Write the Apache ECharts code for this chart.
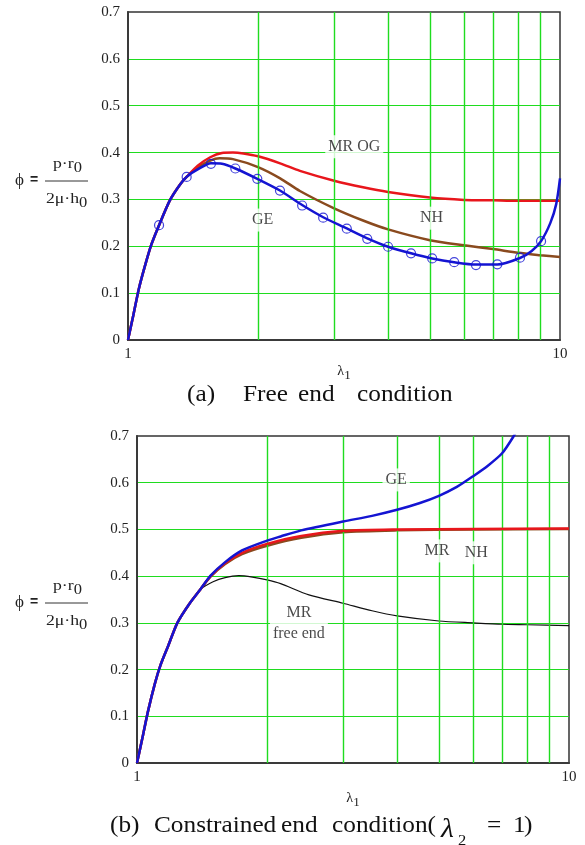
<!DOCTYPE html>
<html><head><meta charset="utf-8">
<script src="https://cdn.jsdelivr.net/npm/echarts/dist/echarts.min.js"></script>
<style>html,body{margin:0;padding:0;background:#fff}#c{width:585px;height:845px}</style>
</head><body><div id="c"></div>
<script>
// ---------- data: chart (a) free end condition ----------
const aRise_x = [1.0, 1.03, 1.06, 1.1, 1.134, 1.18, 1.25, 1.32, 1.37];
const aRise_y = [0, 0.055, 0.11, 0.165, 0.205, 0.245, 0.298, 0.332, 0.349];
const aMR_x = [1.45, 1.55, 1.65, 1.75, 1.85, 2.0, 2.25, 2.5, 3.0, 3.5, 4.0, 5.0, 6.0, 7.0, 8.0, 10];
const aMR_y = [0.372, 0.390, 0.399, 0.400, 0.398, 0.392, 0.377, 0.361, 0.340, 0.326, 0.316, 0.304, 0.299, 0.298, 0.297, 0.297];
const aNH_x = [1.45, 1.55, 1.63, 1.75, 2.0, 2.25, 2.5, 3.0, 3.5, 4.0, 5.0, 6.0, 7.0, 8.0, 9.0, 10];
const aNH_y = [0.368, 0.383, 0.388, 0.386, 0.369, 0.345, 0.318, 0.281, 0.255, 0.236, 0.213, 0.202, 0.194, 0.186, 0.181, 0.177];
const aGE_x = [1.45, 1.556, 1.65, 1.772, 1.992, 2.248, 2.53, 2.83, 3.21, 3.58, 4.0, 4.52, 5.06, 5.69, 6.39, 7.16, 8.08, 8.6, 9.04, 9.5, 9.8, 10];
const aGE_y = [0.364, 0.377, 0.376, 0.366, 0.344, 0.319, 0.288, 0.262, 0.238, 0.217, 0.199, 0.185, 0.174, 0.166, 0.161, 0.161, 0.175, 0.190, 0.211, 0.250, 0.290, 0.345];
const aGEmark_x = [1.18, 1.367, 1.556, 1.772, 1.992, 2.248, 2.53, 2.83, 3.21, 3.58, 4.0, 4.52, 5.06, 5.69, 6.39, 7.16, 8.08, 9.04];
const aGEmark_y = [0.245, 0.348, 0.376, 0.366, 0.344, 0.319, 0.287, 0.261, 0.2375, 0.216, 0.199, 0.185, 0.174, 0.166, 0.160, 0.1615, 0.1757, 0.211];

// ---------- data: chart (b) constrained end condition ----------
const bRise_x = [1.0, 1.03, 1.06, 1.1, 1.134, 1.18, 1.24, 1.32, 1.4];
const bRise_y = [0, 0.055, 0.11, 0.17, 0.21, 0.25, 0.30, 0.34, 0.371];
const bFree_x = [1.5, 1.6, 1.72, 1.85, 2.0, 2.15, 2.5, 3.0, 3.5, 4.0, 5.0, 6.0, 7.0, 8.0, 10];
const bFree_y = [0.388, 0.397, 0.401, 0.398, 0.392, 0.384, 0.360, 0.342, 0.326, 0.315, 0.304, 0.300, 0.297, 0.296, 0.294];
const bMR_x = [1.48, 1.6, 1.75, 2.0, 2.4, 3.0, 4.0, 6.0, 10];
const bMR_y = [0.400, 0.428, 0.450, 0.469, 0.486, 0.497, 0.500, 0.501, 0.502];
const bNH_x = [1.48, 1.6, 1.75, 2.0, 2.4, 3.0, 4.0, 6.0, 10];
const bNH_y = [0.399, 0.426, 0.447, 0.465, 0.482, 0.494, 0.498, 0.500, 0.501];
const bGE_x = [1.48, 1.6, 1.75, 2.0, 2.15, 2.4, 3.0, 3.5, 4.0, 4.5, 5.0, 5.5, 6.0, 6.5, 7.0, 7.45, 7.7];
const bGE_y = [0.401, 0.430, 0.455, 0.476, 0.485, 0.498, 0.517, 0.529, 0.542, 0.556, 0.572, 0.591, 0.614, 0.637, 0.663, 0.700, 0.725];

// ---------- axes / annotations ----------
const logGrid = [2, 3, 4, 5, 6, 7, 8, 9];
const labelsA = [['MR OG', 3.34, 0.4125], ['NH', 5.04, 0.260], ['GE', 2.05, 0.256]];
const labelsB = [['GE', 3.98, 0.606], ['MR', 4.95, 0.454], ['NH', 6.10, 0.450], ['MR\nfree end', 2.37, 0.299]];
const captionA = ['(a)', 'Free', 'end', 'condition'];
const captionB = ['(b)', 'Constrained', 'end', 'condition('];

const SERIF = '"Liberation Serif","Times New Roman",serif';
const GREEN = '#1fdc1f';
const RED = '#e8161c', BROWN = '#8a4a1e', BLUE = '#1414d2', BLACK = '#111';

function pts(xs, ys) { return xs.map((x, i) => [x, ys[i]]); }

const chart = echarts.init(document.getElementById('c'), null, {renderer: 'canvas'});

function xAxisCfg(gi, nameGap) {
  return {
    type: 'log', logBase: 10, min: 1, max: 10, gridIndex: gi,
    axisLine: {show: true, lineStyle: {color: '#3a3a3a', width: 2}},
    axisTick: {show: false},
    splitLine: {show: false},
    axisLabel: {color: '#222', fontFamily: SERIF, fontSize: 15, margin: 7},
    name: '{l|λ}{s|1}', nameLocation: 'middle', nameGap: nameGap,
    nameTextStyle: {rich: {l: {fontFamily: SERIF, fontSize: 14, color: '#222'},
                           s: {fontFamily: SERIF, fontSize: 13, color: '#222', padding: [8, 0, 0, 0]}}}
  };
}
function yAxisCfg(gi) {
  return {
    type: 'value', min: 0, max: 0.7, interval: 0.1, gridIndex: gi,
    axisLine: {show: true, lineStyle: {color: '#3a3a3a', width: 2}},
    axisTick: {show: false},
    splitLine: {show: true, showMinLine: false, showMaxLine: false, lineStyle: {color: GREEN, width: 1}},
    axisLabel: {color: '#222', fontFamily: SERIF, fontSize: 15, margin: 8,
                formatter: v => v === 0 ? '0' : v.toFixed(1)}
  };
}
function gridLines(idx) {
  return {
    type: 'line', xAxisIndex: idx, yAxisIndex: idx, data: [], z: 1, silent: true,
    markLine: {silent: true, symbol: ['none', 'none'], animation: false,
               label: {show: false}, emphasis: {disabled: true},
               lineStyle: {color: GREEN, width: 1.4, type: 'solid', opacity: 1},
               data: logGrid.map(v => ({xAxis: v}))}
  };
}
function curve(idx, xs, ys, color, width, z) {
  return {type: 'line', xAxisIndex: idx, yAxisIndex: idx, data: pts(xs, ys), showSymbol: false,
          symbol: 'none', smooth: 0.25, clip: true, z: z,
          lineStyle: {color: color, width: width}, emphasis: {disabled: true}};
}
function annot(idx, list) {
  return {type: 'scatter', xAxisIndex: idx, yAxisIndex: idx, symbolSize: 0, z: 10, silent: true,
          data: list.map(l => [l[1], l[2], l[0]]),
          label: {show: true, position: 'inside', formatter: p => p.value[2],
                  fontFamily: SERIF, fontSize: 16, color: '#1a1a1a', lineHeight: 21,
                  backgroundColor: '#fff', padding: [1, 3]}};
}

const option = {
  animation: false,
  backgroundColor: '#fff',
  grid: [
    {left: 128, top: 12, width: 432, height: 328, show: true, borderColor: '#333', borderWidth: 1.5, backgroundColor: 'transparent'},
    {left: 137, top: 436, width: 432, height: 327, show: true, borderColor: '#333', borderWidth: 1.5, backgroundColor: 'transparent'}
  ],
  xAxis: [xAxisCfg(0, 21), xAxisCfg(1, 25)],
  yAxis: [yAxisCfg(0), yAxisCfg(1)],
  series: [
    gridLines(0),
    curve(0, aRise_x.concat(aNH_x), aRise_y.concat(aNH_y), BROWN, 2.5, 3),
    curve(0, aRise_x.concat(aMR_x), aRise_y.concat(aMR_y), RED, 2.5, 4),
    curve(0, aRise_x.concat(aGE_x), aRise_y.concat(aGE_y), BLUE, 2.5, 5),
    {type: 'scatter', xAxisIndex: 0, yAxisIndex: 0, data: pts(aGEmark_x, aGEmark_y), z: 6,
     symbol: 'circle', symbolSize: 9, itemStyle: {color: 'transparent', borderColor: BLUE, borderWidth: 1.2}},
    annot(0, labelsA),
    gridLines(1),
    curve(1, bRise_x.concat(bFree_x), bRise_y.concat(bFree_y), BLACK, 1.2, 3),
    curve(1, bRise_x.concat(bNH_x), bRise_y.concat(bNH_y), BROWN, 2.5, 4),
    curve(1, bRise_x.concat(bMR_x), bRise_y.concat(bMR_y), RED, 2.5, 5),
    curve(1, bRise_x.concat(bGE_x), bRise_y.concat(bGE_y), BLUE, 2.5, 6),
    annot(1, labelsB)
  ],
  graphic: []
};

function txt(x, y, text, size, extra) {
  return Object.assign({type: 'text', x: x, y: y, scaleX: 1.1,
    style: Object.assign({text: text, fontFamily: SERIF, fontSize: size, fill: '#111', verticalAlign: 'top'}, extra || {})}, {});
}
// y-axis fraction labels
function fraction(dy) {
  const rich = {n: {fontFamily: SERIF, fontSize: 15, fill: '#222'},
                s: {fontFamily: SERIF, fontSize: 14, fill: '#222', padding: [7, 0, 0, 0]}};
  return [
    {type: 'text', x: 15, y: 172 + dy, style: {text: 'ϕ', fontFamily: SERIF, fontSize: 17, fill: '#222', verticalAlign: 'top'}},
    {type: 'text', x: 30, y: 173 + dy, style: {text: '=', fontFamily: 'Liberation Sans, sans-serif', fontSize: 14, fontWeight: 'bold', fill: '#222', verticalAlign: 'top'}},
    {type: 'text', x: 53, y: 154 + dy, scaleX: 1.18, style: {text: '{n|p·r}{s|0}', rich: rich, verticalAlign: 'top'}},
    {type: 'line', shape: {x1: 45, y1: 181 + dy, x2: 88, y2: 181 + dy}, style: {stroke: '#333', lineWidth: 1}},
    {type: 'text', x: 46, y: 189 + dy, scaleX: 1.18, style: {text: '{n|2μ·h}{s|0}', rich: rich, verticalAlign: 'top'}}
  ];
}
option.graphic = option.graphic.concat(fraction(0), fraction(422));
// captions
const capAx = [187, 243, 298, 357];
captionA.forEach((w, i) => option.graphic.push(txt(capAx[i], 383, w, 23)));
const capBx = [110, 154, 281, 332];
captionB.forEach((w, i) => option.graphic.push(txt(capBx[i], 814, w, 23)));
option.graphic.push(
  txt(441, 816, 'λ', 27, {fontStyle: 'italic'}),
  txt(458, 834, '2', 15),
  txt(487, 814, '=', 23),
  txt(513, 814, '1', 23),
  txt(524, 814, ')', 23)
);

chart.setOption(option);
</script>
</body></html>
